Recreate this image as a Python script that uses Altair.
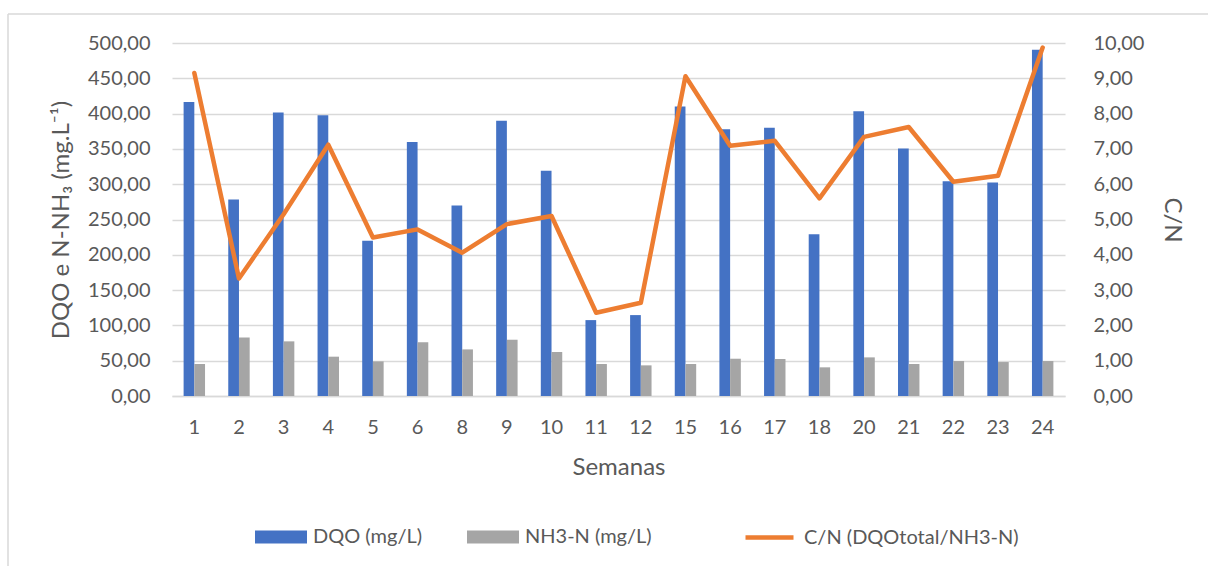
import altair as alt
import pandas as pd

# ---- data ----
weeks = ["1", "2", "3", "4", "5", "6", "8", "9", "10", "11", "12",
         "15", "16", "17", "18", "20", "21", "22", "23", "24"]
dqo = [416.5, 278.3, 401.4, 397.6, 219.8, 359.9, 269.8, 390.0, 318.9, 107.5, 114.6,
       409.9, 377.8, 380.0, 229.2, 403.3, 350.5, 304.2, 302.4, 490.6]
nh3 = [45.3, 83.0, 77.4, 55.7, 49.0, 76.0, 66.0, 79.7, 62.3, 45.3, 43.4,
       45.3, 52.8, 52.4, 40.6, 54.7, 45.3, 49.5, 48.1, 49.5]
cn = [9.15, 3.33, 5.15, 7.12, 4.49, 4.72, 4.06, 4.87, 5.10, 2.36, 2.64,
      9.06, 7.09, 7.23, 5.60, 7.34, 7.62, 6.07, 6.24, 9.87]

bar_series = ["DQO (mg/L)", "NH3-N (mg/L)"]
line_series = "C/N (DQOtotal/NH3-N)"
left_ticks = [0, 50, 100, 150, 200, 250, 300, 350, 400, 450, 500]
right_ticks = [0, 1, 2, 3, 4, 5, 6, 7, 8, 9, 10]

BLUE, GRAY, ORANGE = "#4472C4", "#A5A5A5", "#ED7D31"
TXT = "#595959"
GRID = "#D9D9D9"
FONT = "Lato"

bars_df = pd.DataFrame({
    "Semana": weeks * 2,
    "Serie": [bar_series[0]] * len(weeks) + [bar_series[1]] * len(weeks),
    "Valor": dqo + nh3,
})
line_df = pd.DataFrame({"Semana": weeks, "CN": cn, "Serie": [line_series] * len(weeks)})

xscale = alt.Scale(domain=weeks, paddingInner=0.52, paddingOuter=0.26)
fmt = "replace(format(datum.value, '.2f'), '.', ',')"

x_axis = alt.Axis(title="Semanas", labelAngle=0, ticks=False, domainColor=GRID,
                  domainWidth=1.5, labelPadding=21, titlePadding=18,
                  labelFontSize=20, titleFontSize=24)

bars = alt.Chart(bars_df).mark_bar().encode(
    x=alt.X("Semana:N", scale=xscale, axis=x_axis, sort=weeks),
    xOffset=alt.XOffset("Serie:N", scale=alt.Scale(domain=bar_series, paddingInner=0, paddingOuter=0)),
    y=alt.Y("Valor:Q", scale=alt.Scale(domain=[0, 500], nice=False),
            axis=alt.Axis(title="DQO e N-NH₃ (mg.L⁻¹)", values=left_ticks, labelExpr=fmt,
                          grid=True, gridColor=GRID, gridWidth=1.5, domain=False, ticks=False,
                          labelPadding=22, titlePadding=14, labelFontSize=20, titleFontSize=24)),
    color=alt.Color("Serie:N", scale=alt.Scale(domain=bar_series, range=[BLUE, GRAY]),
                    legend=alt.Legend(title=None, orient="none", direction="horizontal",
                                      legendX=83, legendY=468,
                                      symbolType="M-1,-0.25H1V0.25H-1Z", symbolSize=2704,
                                      symbolStrokeWidth=0, labelOffset=6, columnPadding=44,
                                      labelFontSize=20, labelLimit=400)),
)

line = alt.Chart(line_df).mark_line(color=ORANGE, strokeWidth=4.5, strokeJoin="round",
                                    strokeCap="round").encode(
    x=alt.X("Semana:N", scale=xscale, sort=weeks),
    y=alt.Y("CN:Q", scale=alt.Scale(domain=[0, 10], nice=False),
            axis=alt.Axis(title="C/N", orient="right", values=right_ticks, labelExpr=fmt,
                          grid=False, domain=False, ticks=False, labelPadding=28,
                          titlePadding=16, labelFontSize=20, titleFontSize=24)),
    stroke=alt.Stroke("Serie:N", scale=alt.Scale(domain=[line_series], range=[ORANGE]),
                      legend=alt.Legend(title=None, orient="none", direction="horizontal",
                                        legendX=571, legendY=468, symbolType="stroke",
                                        symbolSize=2304, symbolStrokeWidth=4.5,
                                        labelOffset=8, labelFontSize=20, labelLimit=400)),
)

frame_df = pd.DataFrame({"k": [0]})
frame_top = alt.Chart(frame_df).mark_rule(color=GRID, strokeWidth=1.5).encode(
    x=alt.value(-164), x2=alt.value(1100), y=alt.value(-29))
frame_left = alt.Chart(frame_df).mark_rule(color=GRID, strokeWidth=1.5).encode(
    x=alt.value(-164), y=alt.value(-29), y2=alt.value(600))

chart = alt.layer(frame_top, frame_left, bars, line).resolve_scale(
    y="independent", color="independent", stroke="independent"
).properties(
    width=893, height=353,
    autosize=alt.AutoSizeParams(type="none"),
    padding={"left": 172, "top": 43, "right": 143, "bottom": 170},
    background="white",
).configure_axis(
    labelFont=FONT, titleFont=FONT, labelColor=TXT, titleColor=TXT, titleFontWeight="normal",
).configure_legend(
    labelFont=FONT, labelColor=TXT, padding=0,
).configure_view(stroke=None)

chart.save("out.html", embed_options={"renderer": "svg", "actions": False})
